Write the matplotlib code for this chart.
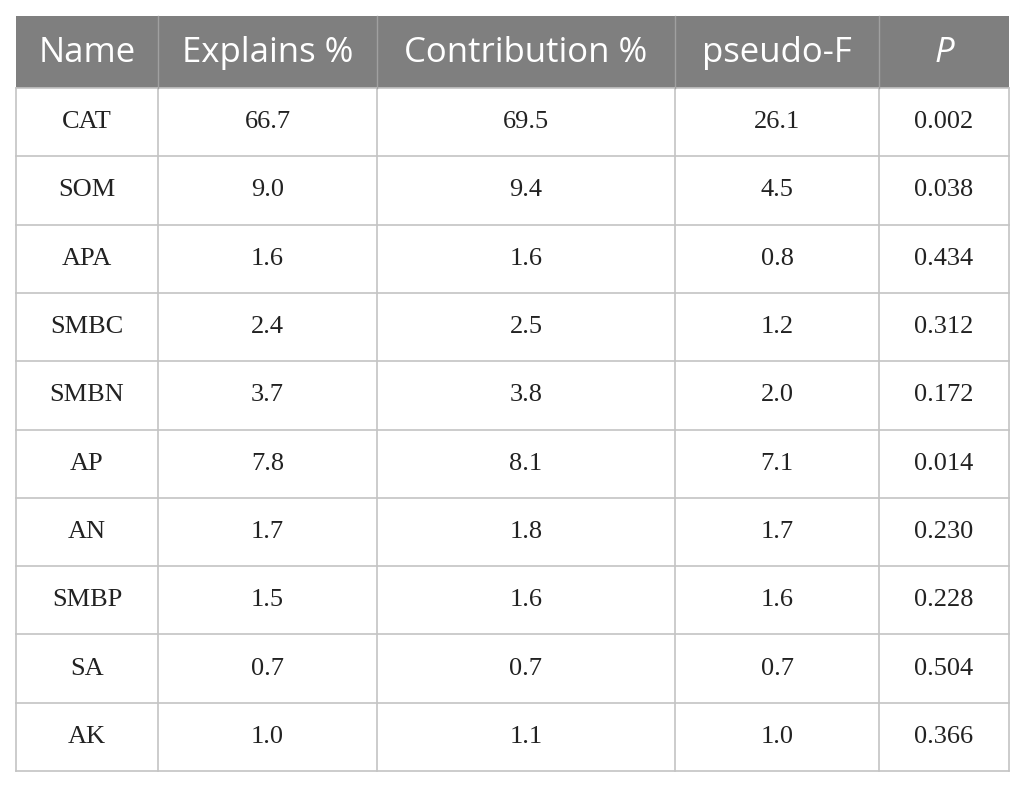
import matplotlib.pyplot as plt

headers = ["Name", "Explains %", "Contribution %", "pseudo-F", "P"]
names = ["CAT", "SOM", "APA", "SMBC", "SMBN", "AP", "AN", "SMBP", "SA", "AK"]
explains = [66.7, 9.0, 1.6, 2.4, 3.7, 7.8, 1.7, 1.5, 0.7, 1.0]
contribution = [69.5, 9.4, 1.6, 2.5, 3.8, 8.1, 1.8, 1.6, 0.7, 1.1]
pseudo_f = [26.1, 4.5, 0.8, 1.2, 2.0, 7.1, 1.7, 1.6, 0.7, 1.0]
p_values = [0.002, 0.038, 0.434, 0.312, 0.172, 0.014, 0.230, 0.228, 0.504, 0.366]

# layout in pixels
W, H = 1025, 788
col_edges = [16, 158, 377, 675, 879, 1009]
top, header_bottom, bottom = 16, 88, 771
row_h = (bottom - header_bottom) / len(names)

line_color = "#c4c4c4"
header_bg = "#7f7f7f"

fig = plt.figure(figsize=(W / 100, H / 100), dpi=100)
ax = fig.add_axes([0, 0, 1, 1])
ax.set_xlim(0, W)
ax.set_ylim(H, 0)
ax.axis("off")

ax.add_patch(plt.Rectangle((col_edges[0], top), col_edges[-1] - col_edges[0],
                           header_bottom - top, facecolor=header_bg, edgecolor="none"))

for i, h in enumerate(headers):
    cx = (col_edges[i] + col_edges[i + 1]) / 2
    style = "italic" if h == "P" else "normal"
    ax.text(cx, (top + header_bottom) / 2 + 1, h, ha="center", va="center",
            color="white", fontsize=25, family="Open Sans", style=style)

rows = zip(names, explains, contribution, pseudo_f, p_values)
for r, (n, e, c, f, p) in enumerate(rows):
    cy = header_bottom + (r + 0.5) * row_h
    cells = [n, f"{e:.1f}", f"{c:.1f}", f"{f:.1f}", f"{p:.3f}"]
    for i, s in enumerate(cells):
        cx = (col_edges[i] + col_edges[i + 1]) / 2
        ax.text(cx, cy, s, ha="center", va="center", color="#222222",
                fontsize=19, family="Liberation Serif")

# grid lines
for r in range(len(names) + 1):
    y = header_bottom + r * row_h
    ax.plot([col_edges[0], col_edges[-1]], [y, y], color=line_color, lw=1.2)
for x in col_edges:
    ax.plot([x, x], [header_bottom, bottom], color=line_color, lw=1.2)
for x in col_edges[1:-1]:
    ax.plot([x, x], [top, header_bottom], color="#a0a0a0", lw=1.0)

fig.savefig("out.png", dpi=100)
